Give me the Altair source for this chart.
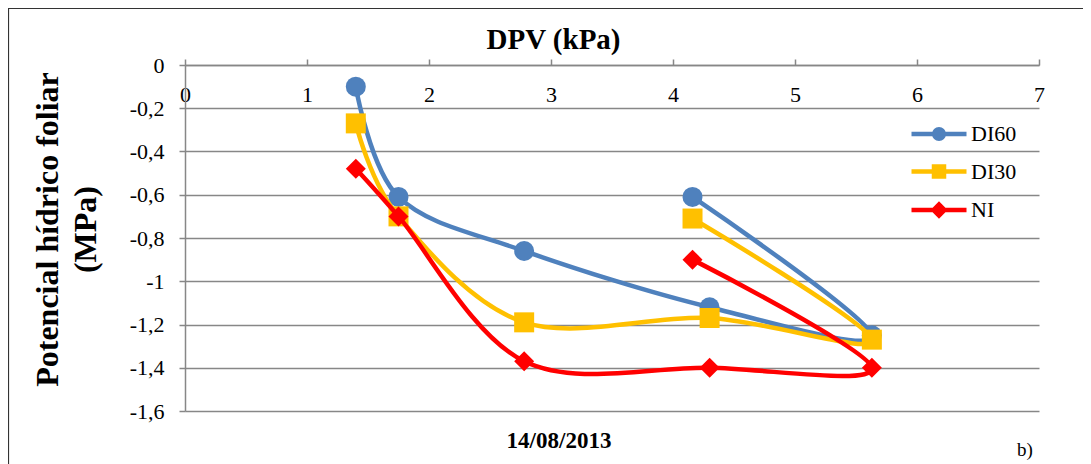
import altair as alt
import pandas as pd

# ---- data ----
series = ["DI60", "DI30", "NI"]
dpv = [1.40, 1.75, 2.78, 4.30, 5.63, 4.16]          # DPV (kPa), in measurement order
di60 = [-0.10, -0.61, -0.86, -1.12, -1.25, -0.61]
di30 = [-0.27, -0.70, -1.19, -1.17, -1.27, -0.71]
ni = [-0.48, -0.70, -1.37, -1.40, -1.40, -0.90]
colors = ["#4F81BD", "#FFC000", "#FF0000"]
shapes = ["circle", "square", "diamond"]
# legend symbols: a line segment with the series marker in the middle
legend_shapes = [
    "M-5.5,0L5.5,0M0.95,0A0.95,0.95,0,1,1,-0.95,0A0.95,0.95,0,1,1,0.95,0Z",
    "M-5.5,0L5.5,0M-1,-1L1,-1L1,1L-1,1Z",
    "M-5.5,0L5.5,0M-1.1,0L0,-1.1L1.1,0L0,1.1Z",
]
x_ticks = [0, 1, 2, 3, 4, 5, 6, 7]
y_ticks = [0, -0.2, -0.4, -0.6, -0.8, -1.0, -1.2, -1.4, -1.6]
x_title = "DPV (kPa)"
y_title = ["Potencial hídrico foliar", "(MPa)"]
date_label = ["14/08/2013"]
panel_label = ["b)"]

rows = []
for name, vals in zip(series, [di60, di30, ni]):
    for i, (x, y) in enumerate(zip(dpv, vals)):
        rows.append({"serie": name, "seq": i, "dpv": x, "psi": y})
df = pd.DataFrame(rows)

FONT = "Liberation Serif"
GRID = "#878787"

legend = alt.Legend(
    title=None,
    orient="none",
    legendX=721,
    legendY=58,
    padding=0,
    symbolSize=100,
    symbolOffset=22,
    labelOffset=21,
    rowPadding=9.5,
    symbolStrokeWidth=4.5,
    symbolOpacity=1,
    labelFont=FONT,
    labelFontSize=22,
    labelColor="#000000",
    labelBaseline="middle",
)

color = alt.Color("serie:N", scale=alt.Scale(domain=series, range=colors), sort=series, legend=None)

x_enc = alt.X(
    "dpv:Q",
    scale=alt.Scale(domain=[0, 7], nice=False, zero=False),
    axis=alt.Axis(
        orient="top",
        values=x_ticks,
        format="d",
        grid=False,
        labelFlush=False,
        title=x_title,
        titleFont=FONT,
        titleFontSize=29,
        titleFontWeight="bold",
        titleColor="#000000",
        titleX=368,
        titleY=-17,
        titleAlign="center",
        titleBaseline="alphabetic",
        labelFont=FONT,
        labelFontSize=22,
        labelColor="#000000",
        labelPadding=-47,
        labelBaseline="bottom",
        tickSize=6,
        tickColor=GRID,
        tickWidth=1.5,
        domainColor=GRID,
        domainWidth=1.5,
    ),
)
y_enc = alt.Y(
    "psi:Q",
    scale=alt.Scale(domain=[-1.6, 0], nice=False, zero=False),
    axis=alt.Axis(
        values=y_ticks,
        labelExpr="replace(replace(format(datum.value, '~g'), '.', ','), '\u2212', '-')",
        grid=True,
        gridColor=GRID,
        gridWidth=1.5,
        title=y_title,
        titleFont=FONT,
        titleFontSize=32,
        titleFontWeight="bold",
        titleColor="#000000",
        titleLineHeight=38,
        titleX=-138,
        titleY=164,
        titleAlign="center",
        titleBaseline="middle",
        labelFont=FONT,
        labelFontSize=22,
        labelColor="#000000",
        labelPadding=15,
        tickSize=6,
        tickColor=GRID,
        tickWidth=1.5,
        domainColor=GRID,
        domainWidth=1.5,
    ),
)

base = alt.Chart(df)

# invisible (zero-size) marks that only carry the legend
legend_layer = base.mark_point(filled=True, size=0, strokeWidth=4.5).encode(
    x=x_enc,
    y=y_enc,
    fill=alt.Fill("serie:N", scale=alt.Scale(domain=series, range=colors), sort=series, legend=legend),
    stroke=alt.Stroke("serie:N", scale=alt.Scale(domain=series, range=colors), sort=series, legend=legend),
    shape=alt.Shape("serie:N", scale=alt.Scale(domain=series, range=legend_shapes), sort=series, legend=legend),
)

layers = []
for k, (name, shp) in enumerate(zip(series, shapes)):
    sub = base.transform_filter(alt.datum.serie == name)
    line = sub.mark_line(interpolate="cardinal", strokeWidth=4.5, strokeCap="round").encode(
        x="dpv:Q", y="psi:Q", color=color, order="seq:Q"
    )
    pts = sub.mark_point(filled=True, size=400, opacity=1, shape=shp).encode(
        x="dpv:Q", y="psi:Q", color=color
    )
    layers += [line, pts]

date_text = alt.Chart(pd.DataFrame({"t": date_label})).mark_text(
    font=FONT, fontSize=23, fontWeight="bold", color="#000000", align="center", baseline="alphabetic"
).encode(text="t:N", x=alt.value(374), y=alt.value(383))

panel_text = alt.Chart(pd.DataFrame({"t": panel_label})).mark_text(
    font=FONT, fontSize=19, color="#000000", align="left", baseline="alphabetic"
).encode(text="t:N", x=alt.value(832), y=alt.value(391))

border = alt.Chart(pd.DataFrame({"t": [0]})).mark_rect(
    fill="transparent", stroke="#333333", strokeWidth=1.2
).encode(x=alt.value(-176.5), x2=alt.value(2000), y=alt.value(-56.5), y2=alt.value(1000))

chart = (
    alt.layer(legend_layer, border, *layers, date_text, panel_text)
    .properties(
        width=854,
        height=346,
        autosize=alt.AutoSizeParams(type="none"),
        padding={"left": 177, "top": 57, "right": 44, "bottom": 53},
    )
    .configure_view(strokeWidth=0)
)

chart.save("out.html", embed_options={"renderer": "svg", "actions": False})
